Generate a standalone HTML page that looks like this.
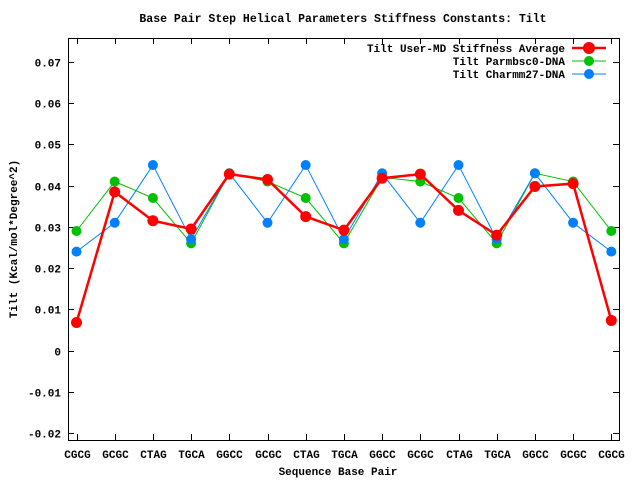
<!DOCTYPE html>
<html><head><style>
html,body{margin:0;padding:0;background:#fff;}
text{font-family:"Liberation Mono",monospace;font-weight:bold;font-size:11px;fill:#000;}
</style></head><body>
<svg width="640" height="480" xmlns="http://www.w3.org/2000/svg">
<rect width="640" height="480" fill="#fff"/>
<text x="343" y="22" text-anchor="middle" style="font-size:11.5px">Base Pair Step Helical Parameters Stiffness Constants: Tilt</text>
<g id="axes" stroke="#000" stroke-width="1" fill="none">
<rect x="68.5" y="38.5" width="551" height="402"/>
</g>
<g stroke="#000" stroke-width="1" id="ticks"></g>
<g id="labels"></g>
<g id="series"></g>
<text x="338" y="475" text-anchor="middle">Sequence Base Pair</text>
<text transform="translate(17,239) rotate(-90)" text-anchor="middle">Tilt (Kcal/mol*Degree^2)</text>
<text x="565" y="52" text-anchor="end">Tilt User-MD Stiffness Average</text>
<text x="565" y="65" text-anchor="end">Tilt Parmbsc0-DNA</text>
<text x="565" y="78" text-anchor="end">Tilt Charmm27-DNA</text>
<line x1="572" y1="48" x2="606" y2="48" stroke="#ff0000" stroke-width="2.5"/>
<circle cx="589" cy="48" r="6" fill="#ff0000"/>
<line x1="572" y1="61" x2="606" y2="61" stroke="#00c000" stroke-width="1"/>
<circle cx="589" cy="61" r="5" fill="#00c000"/>
<line x1="572" y1="74" x2="606" y2="74" stroke="#0080ff" stroke-width="1"/>
<circle cx="589" cy="74" r="5" fill="#0080ff"/>
</svg>
<script>
var ns="http://www.w3.org/2000/svg";
function Y(v){return 62+(0.07-v)*4122;}
function X(i){return 76.5+i*38.2;}
var tk=document.getElementById("ticks"),lb=document.getElementById("labels"),se=document.getElementById("series");
function el(p,n,a,t){var e=document.createElementNS(ns,n);for(var k in a)e.setAttribute(k,a[k]);if(t)e.textContent=t;p.appendChild(e);return e;}
var yl=["-0.02","-0.01","0","0.01","0.02","0.03","0.04","0.05","0.06","0.07"];
for(var j=0;j<10;j++){var v=-0.02+j*0.01,y=Math.round(Y(v))+0.5;
el(tk,"line",{x1:68,y1:y,x2:74,y2:y});el(tk,"line",{x1:619,y1:y,x2:613,y2:y});
el(lb,"text",{x:61,y:y+4,"text-anchor":"end"},yl[j]);}
var xl=["CGCG","GCGC","CTAG","TGCA","GGCC","GCGC","CTAG","TGCA","GGCC","GCGC","CTAG","TGCA","GGCC","GCGC","CGCG"];
for(var i=0;i<15;i++){var x=Math.round(X(i))+0.5;
el(tk,"line",{x1:x,y1:440,x2:x,y2:434});el(tk,"line",{x1:x,y1:38,x2:x,y2:44});
el(lb,"text",{x:x,y:458,"text-anchor":"middle"},xl[i]);}
var g=[0.029,0.041,0.037,0.026,0.043,0.041,0.037,0.026,0.042,0.041,0.037,0.026,0.043,0.041,0.029];
var b=[0.024,0.031,0.045,0.027,0.043,0.031,0.045,0.027,0.043,0.031,0.045,0.027,0.043,0.031,0.024];
var r=[0.0068,0.0385,0.0315,0.0295,0.0428,0.0415,0.0325,0.0292,0.0418,0.0428,0.034,0.028,0.0398,0.0405,0.0073];
function draw(d,c,w,rad){var p=d.map(function(v,i){return X(i)+","+Y(v);}).join(" ");
el(se,"polyline",{points:p,fill:"none",stroke:c,"stroke-width":w});
d.forEach(function(v,i){el(se,"circle",{cx:X(i),cy:Y(v),r:rad,fill:c});});}
draw(g,"#00c000",1,5);draw(b,"#0080ff",1,5);draw(r,"#ff0000",2.5,5.5);
</script>
</body></html>
